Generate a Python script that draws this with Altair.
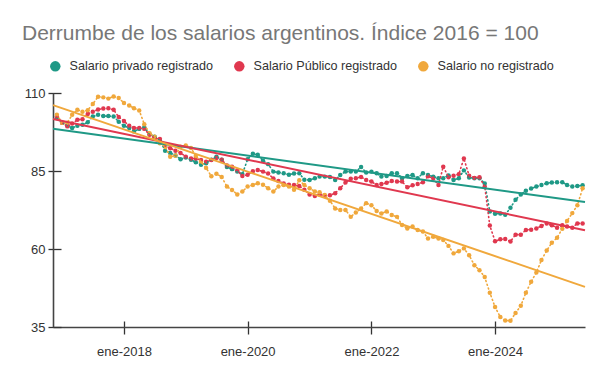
import altair as alt
import pandas as pd

FONT = "Liberation Sans, Arial, sans-serif"

series = ["Salario privado registrado", "Salario Público registrado", "Salario no registrado"]
colores = ["#1f9986", "#e0384f", "#f0a83c"]

# monthly values, Dec-2016 .. Jun-2025
privado = [
    102, 100.5, 99.5, 98.8, 99.5, 99.8, 100.6, 102.5, 103, 102.6, 102.6, 102.5, 100.8,
    99.5, 98.8, 97.7, 98.5, 99, 96.8, 96, 94.8, 91.5, 90.8, 90, 88.8,
    89.3, 88.6, 87.8, 87, 87.5, 88.6, 89.6, 88.6, 86.3, 85.6, 84.8, 84,
    88.8, 90.5, 90.2, 88.3, 87.2, 84.8, 84.5, 84.3, 83.8, 84.2, 84.3, 82.2,
    82.1, 82.7, 83.2, 83.2, 83.1, 82.1, 83.7, 84.8, 84.8, 84.8, 86.3, 84.5,
    84.8, 84.3, 83.2, 83.4, 84.3, 84.3, 82.7, 83.4, 83.7, 82.7, 84.3, 83.7,
    83.2, 82.7, 82.7, 83.6, 82.1, 82.7, 85.2, 82.9, 82.7, 82.7, 81, 72,
    71.3, 71.4, 71, 73.2, 75.8, 77.5, 78.7, 79.4, 80, 80.5, 81.1, 81.3,
    81.4, 81.4, 80.5, 80, 80.2, 80.4,
]
publico = [
    102.5, 100.5, 99.3, 100.2, 101.4, 101.6, 103.3, 104, 104.7, 105, 105.1, 104.6, 102.3,
    101, 99.5, 98.8, 98.8, 98.5, 96.6, 95.5, 95.3, 93, 92.3, 91.5, 90.8,
    89.6, 89, 89, 88.5, 88, 88.5, 89.2, 88.6, 86.8, 86.4, 85.2, 83.4,
    83.8, 84.9, 85.3, 84.8, 84.2, 82.6, 81.8, 81, 80.6, 80.5, 80.2, 79,
    77.5, 77, 77.5, 77, 77.2, 77.9, 79.5, 81.3, 82.5, 82.7, 83.1, 82.1,
    81.6, 80.5, 80.8, 81.2, 81.8, 81.6, 81.6, 79.8, 80.4, 80.8, 81.4, 83.3,
    82.6, 80.5, 86.4, 83, 83.5, 84, 89, 83.5, 82.8, 83, 80, 67.5,
    62.5, 63.1, 63.2, 62.4, 64.6, 64.6, 66.1, 66.2, 66.6, 67.4, 68.2, 67.6,
    66.8, 67.6, 67.2, 66.8, 68.2, 68.2,
]
no_registrado = [
    103, 100.5, 100.5, 103, 104.6, 104, 104.5, 106.5, 108.8, 108.6, 108.2, 108.9, 108.4,
    106.8, 106, 105.1, 104.4, 100, 97.1, 96, 93.9, 92.8, 89.6, 89.9, 92.8,
    93.2, 92.4, 89.8, 88, 86, 83.3, 84.1, 83.1, 80, 78.9, 77.5, 78.4,
    80, 80.5, 81.1, 80.6, 79.5, 78.4, 80, 80.5, 80, 79, 82, 80.5,
    79.5, 78.4, 78.2, 77.3, 75.5, 73, 72.5, 72.5, 70.3, 71.7, 73, 74.7,
    74, 72.2, 71.4, 72, 70.9, 70.3, 67.7, 66.6, 67.2, 66.1, 65.6, 63.4,
    63.9, 63.4, 62.9, 61, 58.6, 59.3, 60.2, 58, 54.8, 53.2, 51, 46,
    41.4, 38.2, 37.1, 37, 39.5, 41.8, 46, 49.5, 52.5, 56.5, 59.5, 62,
    63.6, 66.5, 69, 71.5, 74, 79.5,
]

y_ticks = [35, 60, 85, 110]
x_tick_years = [2018, 2020, 2022, 2024]


def ms(ts):
    return int(pd.Timestamp(ts).value // 10**6)


fechas = pd.date_range("2016-12-01", periods=len(privado), freq="MS")
rows = []
for nombre, vals in zip(series, [privado, publico, no_registrado]):
    for f, v in zip(fechas, vals):
        rows.append({"fecha": ms(f), "serie": nombre, "valor": v})
df = pd.DataFrame(rows)

t0, t1 = ms("2016-11-08"), ms("2025-06-15")
x_vals = [ms(f"{y}-01-01") for y in x_tick_years]

x_scale = alt.Scale(type="utc", domain=[t0, t1])
y_scale = alt.Scale(domain=[35, 110], nice=False, zero=False)
color_scale = alt.Scale(domain=series, range=colores)

ax_x_ticks = alt.Axis(orient="bottom", values=x_vals,
                      labelExpr="'ene-' + utcFormat(datum.value, '%Y')",
                      domain=False, tickSize=13, offset=-6, labelPadding=11,
                      tickColor="#333333", tickWidth=1.3, labelFontSize=13,
                      labelColor="#333333", labelFont=FONT, title=None, grid=False)
ax_y_ticks = alt.Axis(orient="left", values=y_ticks, domain=False, tickSize=13,
                      offset=-8, labelPadding=3, tickColor="#333333", tickWidth=1.3,
                      labelFontSize=13, labelColor="#333333", labelFont=FONT,
                      title=None, grid=False)
ax_x_dom = alt.Axis(orient="bottom", domain=True, ticks=False, labels=False, title=None,
                    grid=False, domainColor="#444444", domainWidth=1.6)
ax_y_dom = alt.Axis(orient="left", domain=True, ticks=False, labels=False, title=None,
                    grid=False, domainColor="#444444", domainWidth=1.6)

legend = alt.Legend(orient="none", legendX=-4, legendY=-33, direction="horizontal",
                    title=None, symbolType="circle", symbolSize=110, symbolStrokeWidth=0,
                    labelFontSize=12.6, labelColor="#333333", labelFont=FONT,
                    columnPadding=19, labelOffset=8, symbolOpacity=1)

color_enc = alt.Color("serie:N", scale=color_scale, legend=legend)

base = alt.Chart(df)

dotted = base.mark_line(strokeDash=[1, 3], strokeWidth=1.6, strokeCap="round").encode(
    x=alt.X("fecha:T", scale=x_scale, axis=ax_x_ticks),
    y=alt.Y("valor:Q", scale=y_scale, axis=ax_y_ticks),
    color=color_enc,
)
points = base.mark_circle(size=20, opacity=1).encode(
    x=alt.X("fecha:T", scale=x_scale, axis=ax_x_ticks),
    y=alt.Y("valor:Q", scale=y_scale, axis=ax_y_ticks),
    color=color_enc,
)
trend = base.transform_regression(
    "fecha", "valor", groupby=["serie"], extent=[t0, t1]
).mark_line(strokeWidth=2).encode(
    x=alt.X("fecha:T", scale=x_scale, axis=ax_x_dom),
    y=alt.Y("valor:Q", scale=y_scale, axis=ax_y_dom),
    color=color_enc,
)

chart = alt.layer(alt.layer(points, dotted), trend).resolve_axis(
    x="independent", y="independent"
).properties(
    width=532, height=234,
    autosize=alt.AutoSizeParams(type="none"),
    padding={"left": 53, "top": 93, "right": 21, "bottom": 49},
    title=alt.TitleParams(
        "Derrumbe de los salarios argentinos. Índice 2016 = 100",
        anchor="start", fontSize=21, font=FONT, fontWeight="normal",
        color="#777777", dx=-31, dy=26, offset=25, baseline="alphabetic", frame="group",
    ),
    background="white",
).configure_view(stroke=None).configure_legend(
    symbolType="circle", symbolFillColor=None
)

chart.save("out.html", embed_options={"renderer": "svg", "actions": False})
